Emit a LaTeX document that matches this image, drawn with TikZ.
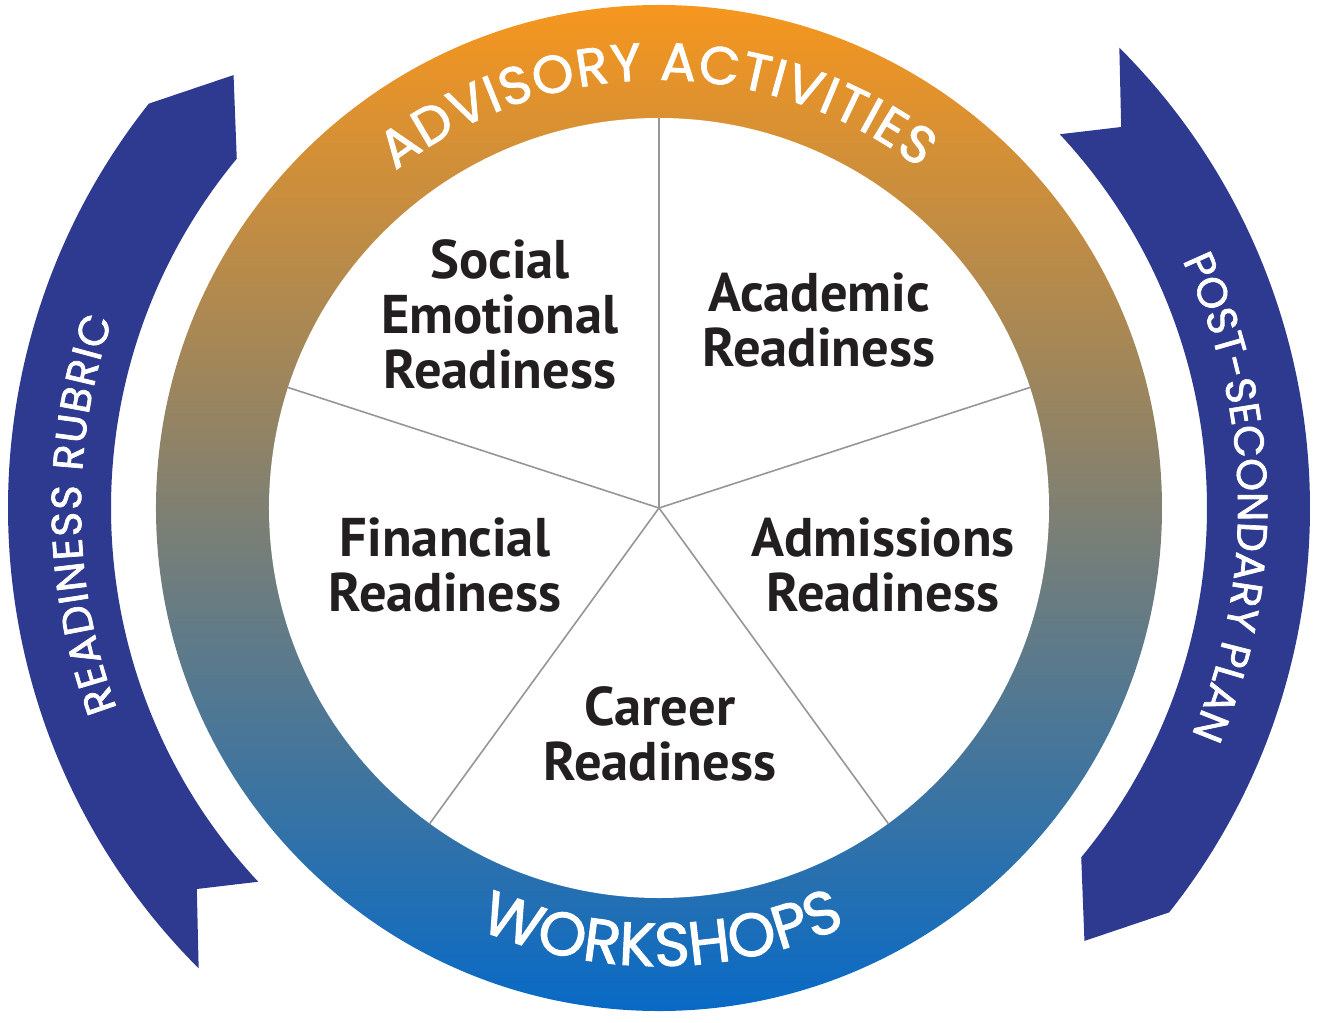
\documentclass[tikz,border=0pt]{standalone}
\usepackage{fontspec}
\setmainfont{PT Sans}
\newfontfamily\bandfont[FakeBold=1.6]{Poppins}
\usetikzlibrary{decorations.text}

\definecolor{ringtop}{RGB}{246,150,30}
\definecolor{ringbot}{RGB}{8,106,198}
\definecolor{bandblue}{RGB}{45,58,143}
\definecolor{labelgray}{RGB}{35,31,32}
\definecolor{spokegray}{RGB}{150,150,150}

\begin{document}
\begin{tikzpicture}[
	  x=1bp, y=1bp,
	  spoke/.style={draw=spokegray, line width=1.6bp},
	  seglabel/.style={font=\fontsize{54.5bp}{55bp}\selectfont\bfseries,
	    text=labelgray, align=center, inner sep=0pt},
	  arctext/.style={decorate, decoration={text along path, text align=fit to path}},
	]
	\useasboundingbox (-659,-514) rectangle (659,508);

	% ring
	\shade [top color=ringtop, bottom color=ringbot] (0,0) circle [radius=503bp];
	\fill [white] (0,0) circle [radius=390bp];
	\foreach \a in {90,18,-54,-126,162}
	  \draw [spoke] (0,0) -- (\a:390bp);

	% side arrows
	\fill [bandblue] (225:651bp) arc [start angle=225, end angle=141.6, radius=651bp]
	  -- (134.5:607bp) -- (140.4:548bp) arc [start angle=140.4, end angle=223, radius=548bp]
	  -- (219.5:599bp) -- cycle;
	\fill [bandblue] (45:651bp) arc [start angle=45, end angle=-38.4, radius=651bp]
	  -- (-45.5:607bp) -- (-39.6:548bp) arc [start angle=-39.6, end angle=43, radius=548bp]
	  -- (39.5:599bp) -- cycle;

	\node [seglabel] (social) at (-159,194) {Social\\Emotional\\Readiness};
	\node [seglabel] (academic) at (160,188) {Academic\\Readiness};
	\node [seglabel] (financial) at (-214,-57) {Financial\\Readiness};
	\node [seglabel] (admissions) at (224,-57) {Admissions\\Readiness};
	\node [seglabel] (career) at (1,-226) {Career\\Readiness};

	\path [arctext, decoration={text={|\bandfont\fontsize{53bp}{53bp}\selectfont\color{white}|ADVISORY ACTIVITIES}}]
	  (128:428bp) arc [start angle=128, end angle=52.5, radius=428bp];
	\path [arctext, decoration={text={|\bandfont\fontsize{61bp}{61bp}\selectfont\color{white}|WORKSHOPS}}]
	  (246.8:458bp) arc [start angle=246.8, end angle=293.2, radius=458bp];
	\path [arctext, decoration={text={|\bandfont\fontsize{42bp}{42bp}\selectfont\color{white}|READINESS RUBRIC}}]
	  (200.3:578bp) arc [start angle=200.3, end angle=161, radius=578bp];
	\path [arctext, decoration={text={|\bandfont\fontsize{42bp}{42bp}\selectfont\color{white}|POST-SECONDARY PLAN}}]
	  (25.3:579bp) arc [start angle=25.3, end angle=-23, radius=579bp];
\end{tikzpicture}
\end{document}
